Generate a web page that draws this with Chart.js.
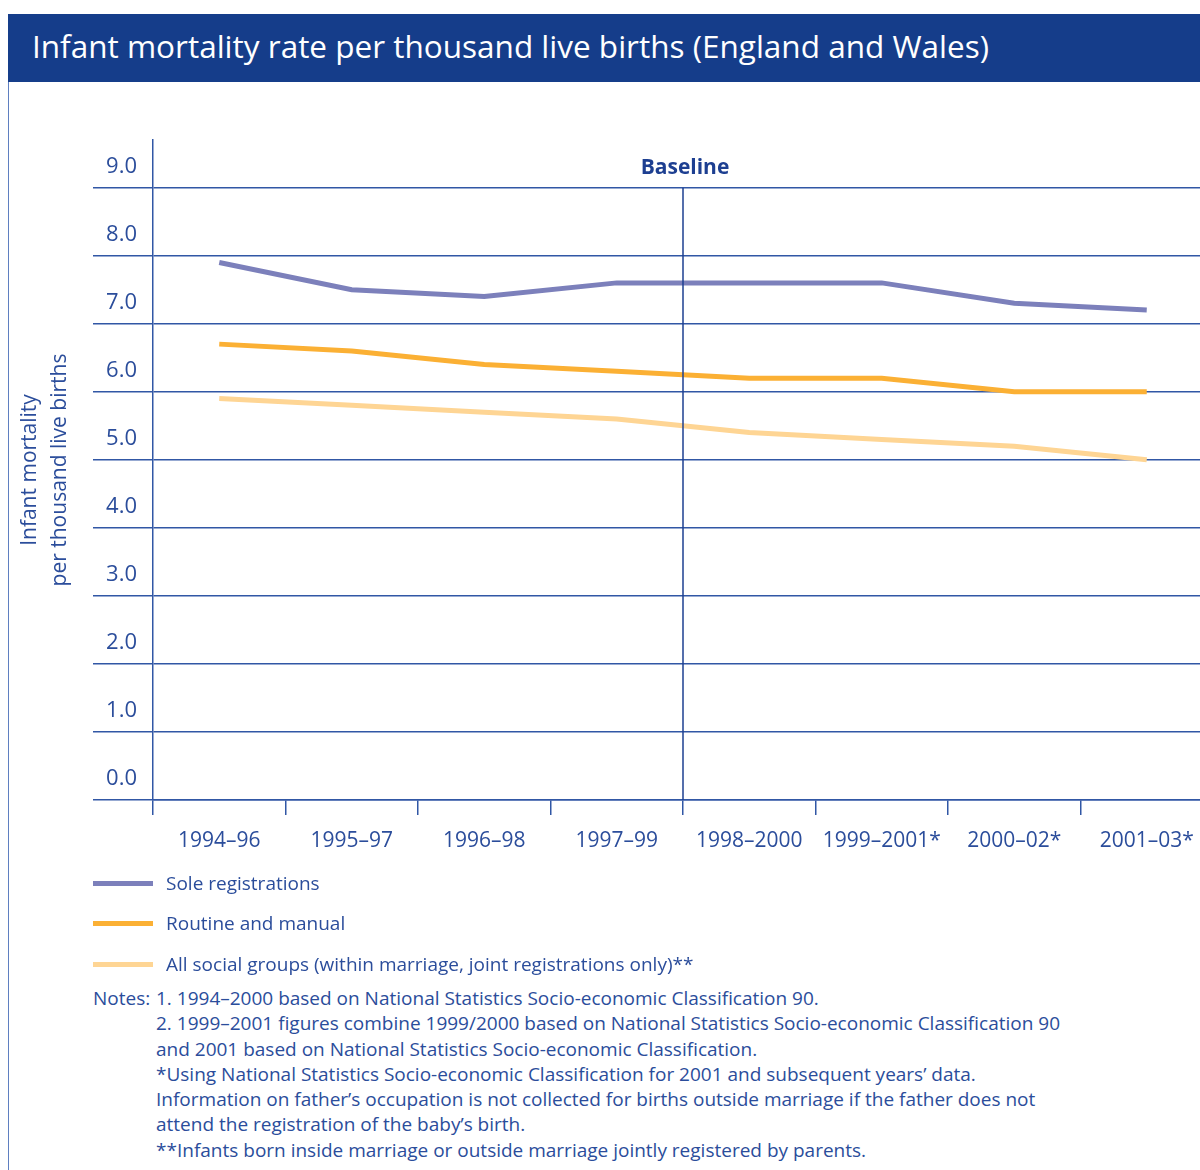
<!DOCTYPE html>
<html>
<head>
<meta charset="utf-8">
<title>Infant mortality rate per thousand live births</title>
<script src="https://cdn.jsdelivr.net/npm/chart.js@4.4.1/dist/chart.umd.min.js"></script>
<style>
    body {
        margin: 0;
        width: 1200px;
        height: 1170px;
        overflow: hidden;
        position: relative;
        background: #fff;
        font-family: "Open Sans", "Noto Sans", sans-serif;
        color: #2b4d9b;
    }
    .header {
        position: absolute;
        left: 8px;
        top: 14px;
        width: 1192px;
        height: 68px;
        background: #153d8a;
        color: #fff;
        font-size: 31.5px;
        line-height: 64px;
        padding-left: 24px;
        box-sizing: border-box;
        white-space: nowrap;
    }
    .frame {
        position: absolute;
        left: 8px;
        top: 82px;
        bottom: 0;
        width: 1px;
        background: #5f7fc0;
    }
    .chart-wrap {
        position: absolute;
        left: 0;
        top: 82px;
        width: 1213px;
        height: 800px;
    }
    .legend-item {
        position: absolute;
        left: 93px;
        height: 30px;
        font-size: 19px;
        line-height: 30px;
        white-space: nowrap;
    }
    .legend-item span.swatch {
        position: absolute;
        left: 0;
        top: 13px;
        width: 60px;
        height: 5px;
    }
    .legend-item span.text {
        position: absolute;
        left: 73px;
        top: 0;
    }
    .notes {
        position: absolute;
        left: 93px;
        top: 986px;
        font-size: 19px;
        line-height: 25.3px;
        white-space: nowrap;
    }
    .notes .head {
        display: inline-block;
        width: 63px;
    }
    .notes .indent {
        padding-left: 63px;
    }
</style>
</head>
<body>
<div class="header">Infant mortality rate per thousand live births (England and Wales)</div>
<div class="frame"></div>
<div class="chart-wrap"><canvas id="imrChart" width="1213" height="800"></canvas></div>
<div id="legend"></div>
<div class="notes">
    <div><span class="head">Notes:</span>1. 1994–2000 based on National Statistics Socio-economic Classification 90.</div>
    <div class="indent">2. 1999–2001 figures combine 1999/2000 based on National Statistics Socio-economic Classification 90</div>
    <div class="indent">and 2001 based on National Statistics Socio-economic Classification.</div>
    <div class="indent">*Using National Statistics Socio-economic Classification for 2001 and subsequent years’ data.</div>
    <div class="indent">Information on father’s occupation is not collected for births outside marriage if the father does not</div>
    <div class="indent">attend the registration of the baby’s birth.</div>
    <div class="indent">**Infants born inside marriage or outside marriage jointly registered by parents.</div>
</div>
<script>
// three-year rolling periods
const periods = ['1994–96', '1995–97', '1996–98', '1997–99', '1998–2000', '1999–2001*', '2000–02*', '2001–03*'];

// deaths under 1 year per 1,000 live births
const soleRegistrations = [7.9, 7.5, 7.4, 7.6, 7.6, 7.6, 7.3, 7.2];
const routineManual = [6.7, 6.6, 6.4, 6.3, 6.2, 6.2, 6.0, 6.0];
const allSocialGroups = [5.9, 5.8, 5.7, 5.6, 5.4, 5.3, 5.2, 5.0];

const seriesLabels = ['Sole registrations', 'Routine and manual', 'All social groups (within marriage, joint registrations only)**'];
const seriesColours = ['#7c80bb', '#fbb034', '#fed594'];

const yTicks = [0, 1, 2, 3, 4, 5, 6, 7, 8, 9];
const yMax = 9.7;

// baseline falls between 1997–99 and 1998–2000
const baselineAfter = 3;
const baselineLabel = 'Baseline';

const blue = '#2b4d9b';
const gridBlue = '#3157a5';

const baselinePlugin = {
    id: 'baseline',
    afterDatasetsDraw(chart) {
        const x = chart.scales.x;
        const y = chart.scales.y;
        const px = (x.getPixelForValue(baselineAfter) + x.getPixelForValue(baselineAfter + 1)) / 2;
        const top = y.getPixelForValue(yTicks[yTicks.length - 1]);
        const ctx = chart.ctx;
        ctx.save();
        ctx.strokeStyle = '#1d3f91';
        ctx.lineWidth = 1.5;
        ctx.beginPath();
        ctx.moveTo(px, top);
        ctx.lineTo(px, y.bottom);
        ctx.stroke();
        ctx.fillStyle = '#1d3f91';
        ctx.font = 'bold 21px "Open Sans", sans-serif';
        ctx.textAlign = 'center';
        ctx.textBaseline = 'middle';
        ctx.fillText(baselineLabel, px + 2, top - 20);
        ctx.restore();
    }
};

const datasets = [soleRegistrations, routineManual, allSocialGroups].map((values, i) => ({
    label: seriesLabels[i],
    data: values,
    borderColor: seriesColours[i],
    backgroundColor: seriesColours[i],
    borderWidth: 5,
    pointRadius: 0,
    tension: 0,
    fill: false
}));

const ctx = document.getElementById('imrChart').getContext('2d');
const chart = new Chart(ctx, {
    type: 'line',
    data: { labels: periods, datasets: datasets },
    plugins: [baselinePlugin],
    options: {
        responsive: false,
        animation: false,
        layout: { padding: { top: 58, left: 0, right: 0, bottom: 0 } },
        plugins: {
            legend: { display: false },
            tooltip: { enabled: false }
        },
        scales: {
            x: {
                offset: true,
                afterFit(scale) { scale.height = 82; },
                border: { color: gridBlue, width: 1.5 },
                grid: {
                    offset: true,
                    drawOnChartArea: false,
                    color: gridBlue,
                    lineWidth: 1.5,
                    tickLength: 15
                },
                ticks: {
                    color: blue,
                    padding: 13,
                    maxRotation: 0,
                    autoSkip: false,
                    font: { family: '"Open Sans", sans-serif', size: 21 }
                }
            },
            y: {
                min: 0,
                max: yMax,
                afterBuildTicks(scale) {
                    scale.ticks = yTicks.map(v => ({ value: v }));
                },
                afterFit(scale) { scale.width = 153; },
                border: { color: gridBlue, width: 1.5 },
                grid: {
                    color: gridBlue,
                    lineWidth: 1.5,
                    tickLength: 60
                },
                ticks: {
                    color: blue,
                    padding: -44,
                    labelOffset: -21,
                    font: { family: '"Open Sans", sans-serif', size: 22 },
                    callback: value => value.toFixed(1)
                },
                title: {
                    display: true,
                    text: ['Infant mortality', 'per thousand live births'],
                    color: blue,
                    padding: { top: 15, bottom: 0 },
                    font: { family: '"Open Sans", sans-serif', size: 21, lineHeight: 1.43 }
                }
            }
        }
    }
});

// legend below the chart, one row per series
const legend = document.getElementById('legend');
const legendTops = [868, 908, 949];
chart.data.datasets.forEach((ds, i) => {
    const item = document.createElement('div');
    item.className = 'legend-item';
    item.style.top = legendTops[i] + 'px';
    const swatch = document.createElement('span');
    swatch.className = 'swatch';
    swatch.style.background = ds.borderColor;
    const text = document.createElement('span');
    text.className = 'text';
    text.textContent = ds.label;
    item.appendChild(swatch);
    item.appendChild(text);
    legend.appendChild(item);
});
</script>
</body>
</html>
